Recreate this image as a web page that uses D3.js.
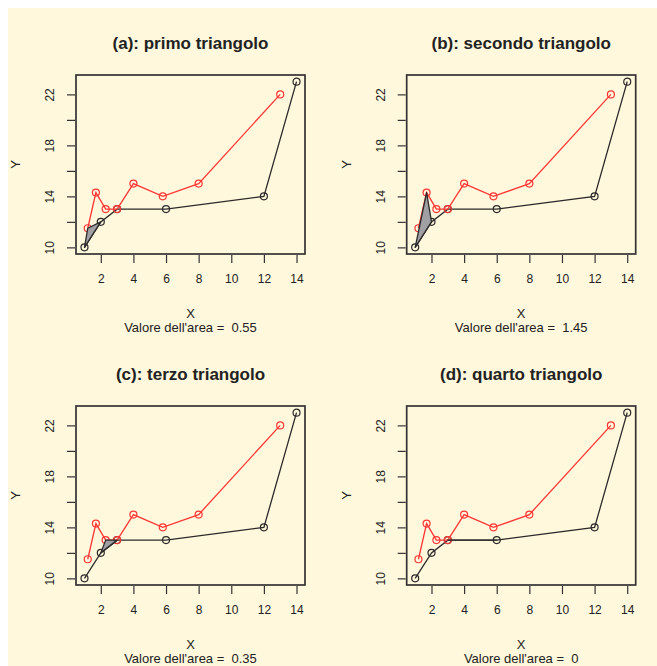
<!DOCTYPE html>
<html>
<head>
<meta charset="utf-8">
<script src="https://cdn.jsdelivr.net/npm/d3@7"></script>
<style>
  body { margin: 0; background: #fff; }
  text { font-family: "Liberation Sans", Arial, sans-serif; fill: #222; }
</style>
</head>
<body>
<svg width="657" height="666"></svg>
<script>
var canvas = d3.select("svg");

// data
var blackX = [1, 2, 3, 6, 12, 14];
var blackY = [10, 12, 13, 13, 14, 23];
var redX = [1.2, 1.7, 2.3, 3, 4, 5.8, 8, 13];
var redY = [11.5, 14.3, 13, 13, 15, 14, 15, 22];

var titles = ["(a): primo triangolo", "(b): secondo triangolo",
              "(c): terzo triangolo", "(d): quarto triangolo"];
var areas = ["0.55", "1.45", "0.35", "0"];

// triangle vertices for each panel
var triangles = [
    [[1, 10], [1.2, 11.5], [2, 12]],
    [[1, 10], [1.7, 14.3], [2, 12]],
    [[2, 12], [2.3, 13], [3, 13]],
    [[3, 13], [3, 13], [6, 13]]
];

var xTicks = [2, 4, 6, 8, 10, 12, 14];
var yTicks = [10, 12, 14, 16, 18, 20, 22];
var yLabels = [10, 14, 18, 22];

var colorBg = "#fff8dc";
var colorBlack = "#2a2a2a";
var colorRed = "#ff3535";
var colorFill = "#a0a0a4";

canvas.append("rect")
    .attr("x", 8).attr("y", 8)
    .attr("width", 657 - 8).attr("height", 666 - 8)
    .attr("fill", colorBg);

var blackPts = blackX.map((d, i) => [d, blackY[i]]);
var redPts = redX.map((d, i) => [d, redY[i]]);

// R-style 4% expansion of data range
function padded(ext) {
    var p = (ext[1] - ext[0]) * 0.04;
    return [ext[0] - p, ext[1] + p];
}
var xDom = padded(d3.extent(blackX.concat(redX)));
var yDom = padded(d3.extent(blackY.concat(redY)));

var panelW = 229, panelH = 179;
var origins = [[76, 75], [406.7, 75], [76, 406], [406.7, 406]];

titles.forEach((title, i) => drawPanel(i));

function drawPanel(i) {
    var ox = origins[i][0], oy = origins[i][1];
    var g = canvas.append("g").attr("transform", `translate(${ox},${oy})`);

    var xScale = d3.scaleLinear().domain(xDom).range([0, panelW]);
    var yScale = d3.scaleLinear().domain(yDom).range([panelH, 0]);

    var line = d3.line().x(d => xScale(d[0])).y(d => yScale(d[1]));

    g.append("path")
        .attr("d", line(blackPts))
        .attr("fill", "none")
        .attr("stroke", colorBlack)
        .attr("stroke-width", 1.3);

    g.selectAll(".pb")
        .data(blackPts)
        .enter()
        .append("circle")
        .attr("cx", d => xScale(d[0]))
        .attr("cy", d => yScale(d[1]))
        .attr("r", 3.5)
        .attr("fill", "none")
        .attr("stroke", colorBlack)
        .attr("stroke-width", 1.2);

    g.append("path")
        .attr("d", line(redPts))
        .attr("fill", "none")
        .attr("stroke", colorRed)
        .attr("stroke-width", 1.3);

    g.selectAll(".pr")
        .data(redPts)
        .enter()
        .append("circle")
        .attr("cx", d => xScale(d[0]))
        .attr("cy", d => yScale(d[1]))
        .attr("r", 3.5)
        .attr("fill", "none")
        .attr("stroke", colorRed)
        .attr("stroke-width", 1.2);

    // the shaded triangle goes on top
    g.append("path")
        .attr("d", line(triangles[i]) + "Z")
        .attr("fill", colorFill)
        .attr("stroke", colorBlack)
        .attr("stroke-width", 1.3)
        .attr("stroke-linejoin", "round");

    // box
    g.append("rect")
        .attr("width", panelW)
        .attr("height", panelH)
        .attr("fill", "none")
        .attr("stroke", "#333")
        .attr("stroke-width", 1.7);

    var xAxis = g.append("g")
        .attr("transform", `translate(0,${panelH + 1})`)
        .call(d3.axisBottom(xScale).tickValues(xTicks).tickSize(8).tickSizeOuter(0));
    xAxis.select(".domain").remove();
    xAxis.selectAll("line").attr("stroke", "#333").attr("stroke-width", 1.2);
    xAxis.selectAll("text")
        .attr("y", 28).attr("dy", 0)
        .style("font-size", "12px")
        .style("font-family", "Liberation Sans, Arial, sans-serif")
        .attr("fill", "#222");

    var yAxis = g.append("g")
        .attr("transform", "translate(-1,0)")
        .call(d3.axisLeft(yScale).tickValues(yTicks).tickSize(8)
            .tickFormat(d => yLabels.includes(d) ? d : ""));
    yAxis.select(".domain").remove();
    yAxis.selectAll("line").attr("stroke", "#333").attr("stroke-width", 1.2);
    yAxis.selectAll("text")
        .attr("x", 0).attr("dy", 0)
        .attr("transform", "translate(-21,0) rotate(-90)")
        .attr("text-anchor", "middle")
        .style("font-size", "12px")
        .style("font-family", "Liberation Sans, Arial, sans-serif")
        .attr("fill", "#222");

    g.append("text")
        .attr("x", panelW / 2)
        .attr("y", -26)
        .attr("text-anchor", "middle")
        .style("font-size", "17px")
        .style("font-weight", "bold")
        .text(titles[i]);

    g.append("text")
        .attr("x", panelW / 2)
        .attr("y", panelH + 64)
        .attr("text-anchor", "middle")
        .style("font-size", "13px")
        .text("X");

    g.append("text")
        .attr("x", panelW / 2)
        .attr("y", panelH + 78)
        .attr("text-anchor", "middle")
        .style("font-size", "13px")
        .style("white-space", "pre")
        .text("Valore dell'area =  " + areas[i]);

    g.append("text")
        .attr("transform", `translate(${-ox + (ox < 200 ? 20 : 350.7)},${panelH / 2}) rotate(-90)`)
        .attr("text-anchor", "middle")
        .style("font-size", "13px")
        .text("Y");
}
</script>
</body>
</html>
